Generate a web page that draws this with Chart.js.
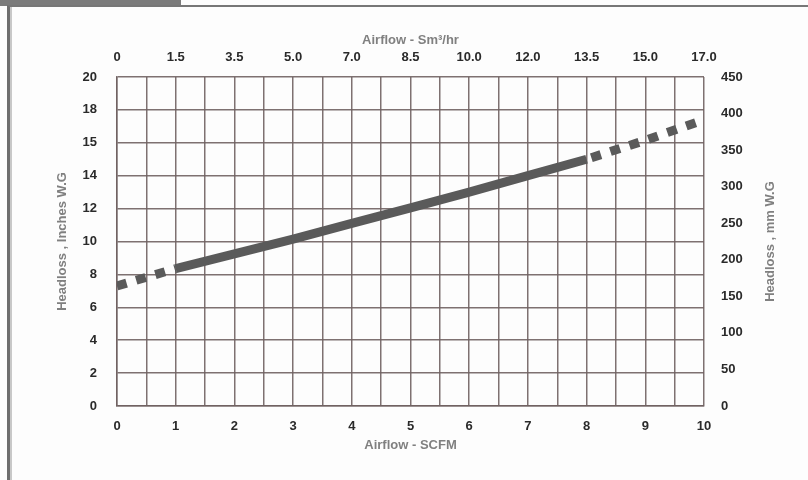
<!DOCTYPE html>
<html>
<head>
<meta charset="utf-8">
<script src="https://cdn.jsdelivr.net/npm/chart.js@4/dist/chart.umd.min.js"></script>
<style>
  html, body { margin: 0; padding: 0; background: #ffffff; }
  #wrap { position: relative; width: 808px; height: 480px; overflow: hidden; background: #fdfdfd; }
  #tab { position: absolute; left: 0; top: 0; width: 181px; height: 6px; background: #7b7b7b; }
  #frame { position: absolute; left: 7px; top: 5px; width: 801px; height: 480px;
           border-left: 3px solid #6e6e6e; border-top: 2px solid #777; box-sizing: border-box; }
  #inner { position: absolute; left: 10px; top: 7px; width: 2px; height: 473px; background: #c8c8c8; }
  canvas { position: absolute; left: 0; top: 0; }
</style>
</head>
<body>
<div id="wrap">
  <div id="tab"></div>
  <div id="frame"></div>
  <div id="inner"></div>
  <canvas id="c" width="808" height="480"></canvas>
</div>
<script>
// Airflow (SCFM) sample positions and headloss (inches W.G)
const airflowScfm = [0, 1, 2, 3, 4, 5, 6, 7, 8, 9, 10];
const headlossInches = [7.3, 8.35, 9.25, 10.15, 11.1, 12.05, 13.0, 14.0, 15.0, 16.15, 17.4];

// Tick labels
const bottomTickLabels = ['0', '1', '2', '3', '4', '5', '6', '7', '8', '9', '10'];
const topTickLabels = ['0', '1.5', '3.5', '5.0', '7.0', '8.5', '10.0', '12.0', '13.5', '15.0', '17.0'];
const leftTickLabels = ['0', '2', '4', '6', '8', '10', '12', '14', '15', '18', '20'];

// Which part of the curve is solid (index range); outside it the curve is dotted
const solidStartIdx = 1;
const solidEndIdx = 8;

const pts = airflowScfm.map((x, i) => ({ x: x, y: headlossInches[i] }));
const lowPart = pts.slice(0, solidStartIdx + 1);
const midPart = pts.slice(solidStartIdx, solidEndIdx + 1);
const highPart = pts.slice(solidEndIdx);

const LINE = '#5a5a5a';
const GRID = 'rgba(112,98,98,0.9)';
const TICK = '#2a2a2a';
const TITLE = '#808080';
const FONT = "'Liberation Sans', Arial, sans-serif";

const rightTitlePlugin = {
  id: 'rightTitle',
  afterDraw(chart) {
    const ctx = chart.ctx;
    const a = chart.chartArea;
    ctx.save();
    ctx.translate(770, (a.top + a.bottom) / 2);
    ctx.rotate(-Math.PI / 2);
    ctx.font = 'bold 13px ' + FONT;
    ctx.fillStyle = TITLE;
    ctx.textAlign = 'center';
    ctx.textBaseline = 'middle';
    ctx.fillText('Headloss , mm W.G', 0, 0);
    ctx.restore();
  }
};

new Chart(document.getElementById('c'), {
  type: 'line',
  data: {
    datasets: [
      { data: lowPart, borderColor: LINE, borderWidth: 9, borderDash: [10, 10], borderDashOffset: 0,
        borderCapStyle: 'butt', pointRadius: 0, tension: 0, fill: false },
      { data: midPart, borderColor: LINE, borderWidth: 9, borderCapStyle: 'butt',
        pointRadius: 0, tension: 0, fill: false },
      { data: highPart, borderColor: LINE, borderWidth: 9, borderDash: [10, 10], borderDashOffset: 15,
        borderCapStyle: 'butt', pointRadius: 0, tension: 0, fill: false }
    ]
  },
  options: {
    responsive: false,
    animation: false,
    devicePixelRatio: 1,
    layout: { padding: 0 },
    plugins: { legend: { display: false }, tooltip: { enabled: false } },
    scales: {
      x: {
        type: 'linear', position: 'bottom', min: 0, max: 10,
        afterFit(s) { s.height = 74; },
        ticks: {
          stepSize: 0.5, autoSkip: false, maxRotation: 0, padding: 13,
          color: TICK, font: { family: FONT, size: 13, weight: 'bold' },
          callback: (v) => (Number.isInteger(v) ? bottomTickLabels[v] : '')
        },
        grid: { color: GRID, lineWidth: 1.5, drawTicks: false },
        border: { color: GRID, width: 1.5 },
        title: { display: true, text: 'Airflow - SCFM', color: TITLE,
                 font: { family: FONT, size: 13, weight: 'bold' }, padding: { top: 0, bottom: 27 } }
      },
      x2: {
        type: 'linear', position: 'top', min: 0, max: 10,
        afterFit(s) { s.height = 77; },
        ticks: {
          stepSize: 1, autoSkip: false, maxRotation: 0, padding: 12,
          color: TICK, font: { family: FONT, size: 13, weight: 'bold' },
          callback: (v) => topTickLabels[v]
        },
        grid: { display: false, drawTicks: false },
        border: { display: false },
        title: { display: true, text: 'Airflow - Sm³/hr', color: TITLE,
                 font: { family: FONT, size: 13, weight: 'bold' }, padding: { top: 33, bottom: 0 } }
      },
      y: {
        type: 'linear', position: 'left', min: 0, max: 20,
        afterFit(s) { s.width = 117; },
        ticks: {
          stepSize: 2, autoSkip: false, padding: 20,
          color: TICK, font: { family: FONT, size: 13, weight: 'bold' },
          callback: (v) => leftTickLabels[v / 2]
        },
        grid: { color: GRID, lineWidth: 1.5, drawTicks: false },
        border: { color: GRID, width: 1.5 },
        title: { display: true, text: 'Headloss , Inches W.G', color: TITLE,
                 font: { family: FONT, size: 13, weight: 'bold' }, padding: { top: 55, bottom: 0 } }
      },
      y2: {
        type: 'linear', position: 'right', min: 0, max: 450,
        afterFit(s) { s.width = 104; },
        ticks: {
          stepSize: 50, autoSkip: false, padding: 17,
          color: TICK, font: { family: FONT, size: 13, weight: 'bold' }
        },
        grid: { display: false, drawTicks: false },
        border: { display: false }
      }
    }
  },
  plugins: [rightTitlePlugin]
});
</script>
</body>
</html>
